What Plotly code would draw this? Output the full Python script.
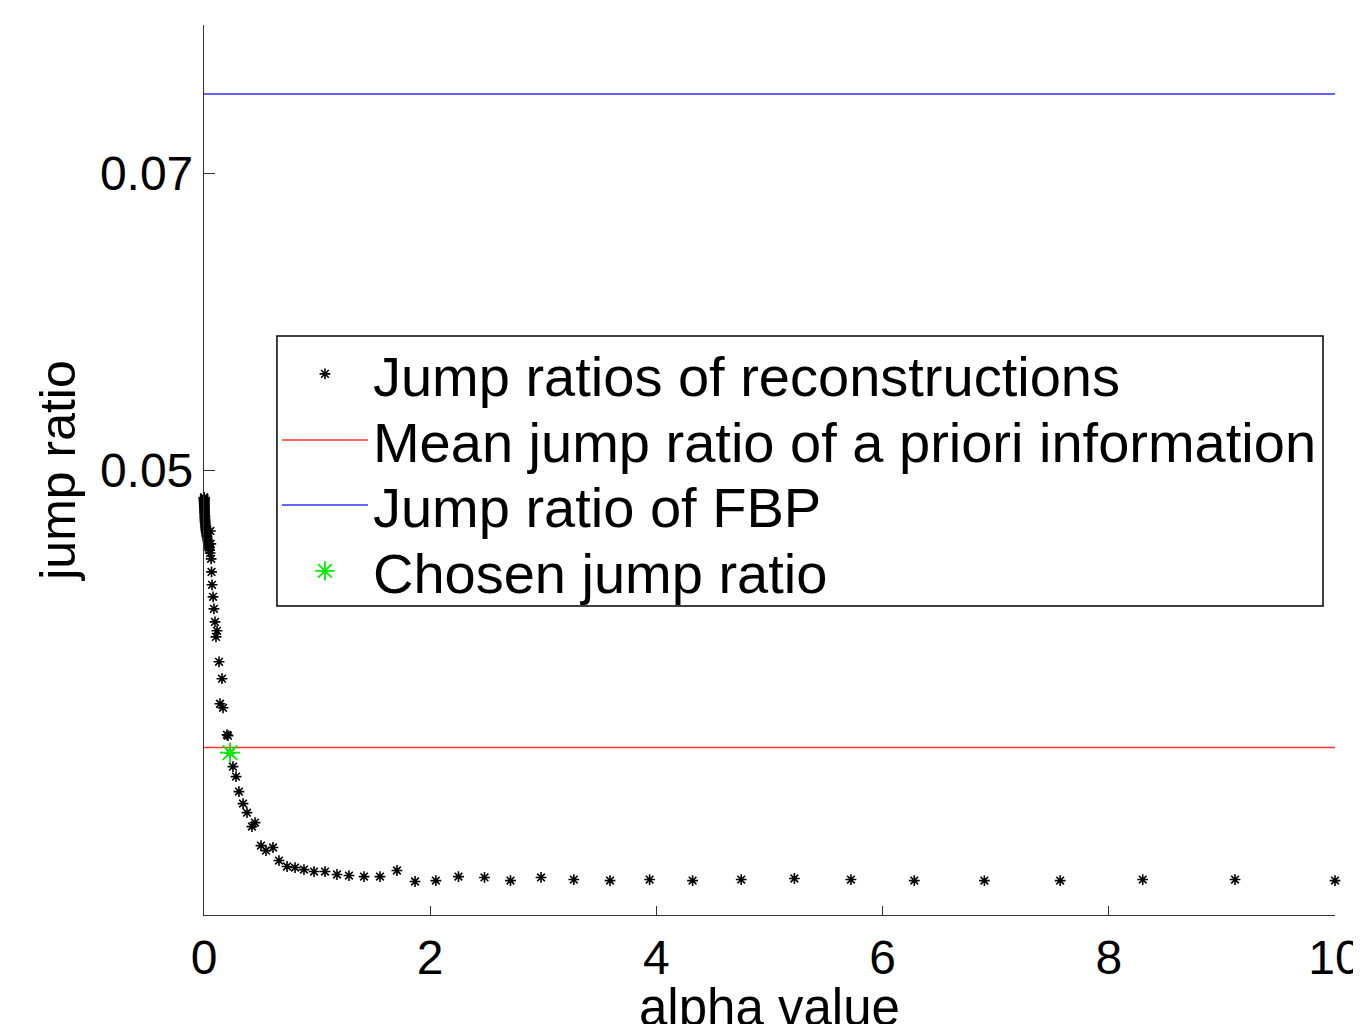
import plotly.graph_objects as go

# ---- data ----
alpha_values = [
    0.0010, 0.0011, 0.0012, 0.0013, 0.0015, 0.0016, 0.0018, 0.0019, 0.0021, 0.0023,
    0.0026, 0.0028, 0.0031, 0.0034, 0.0037, 0.0041, 0.0045, 0.0049, 0.0054, 0.0059,
    0.0065, 0.0071, 0.0078, 0.0086, 0.0094, 0.0103, 0.0113, 0.0124, 0.0136, 0.0149,
    0.0164, 0.0180, 0.0197, 0.0216, 0.0237, 0.0260, 0.0285, 0.0313, 0.0343, 0.0377,
    0.0413, 0.0453, 0.0497, 0.0545,
    0.0565, 0.0600, 0.0630, 0.0665, 0.071, 0.080, 0.088, 0.097, 0.115, 0.106,
    0.133, 0.159, 0.141, 0.168, 0.203, 0.212, 0.230, 0.256, 0.283, 0.309,
    0.345, 0.380, 0.424, 0.451, 0.504, 0.548, 0.610, 0.663, 0.734, 0.805,
    0.884, 0.973, 1.070, 1.176, 1.282, 1.415, 1.556, 1.706, 1.866, 2.05,
    2.25, 2.48, 2.71, 2.98, 3.27, 3.59, 3.94, 4.32, 4.75, 5.22,
    5.72, 6.28, 6.90, 7.57, 8.30, 9.116, 10.0,
]
jump_ratios = [
    0.04815, 0.04813, 0.04810, 0.04806, 0.04803, 0.04798, 0.04794, 0.04789, 0.04784, 0.04778,
    0.04772, 0.04766, 0.04759, 0.04752, 0.04745, 0.04737, 0.04729, 0.04721, 0.04712, 0.04703,
    0.04694, 0.04685, 0.04676, 0.04667, 0.04657, 0.04648, 0.04638, 0.04629, 0.04619, 0.04610,
    0.04600, 0.04591, 0.04581, 0.04572, 0.04562, 0.04553, 0.04543, 0.04530, 0.04518, 0.04505,
    0.04490, 0.04475, 0.04460, 0.04440,
    0.04589, 0.04502, 0.04401, 0.04313, 0.04226, 0.04145, 0.04064, 0.03976, 0.03916, 0.03875,
    0.03707, 0.03593, 0.03424, 0.03397, 0.03215, 0.03209, 0.03094, 0.03000, 0.02933, 0.02832,
    0.02751, 0.02690, 0.02596, 0.02623, 0.02468, 0.02434, 0.02455, 0.02367, 0.02327, 0.02320,
    0.02306, 0.02293, 0.02293, 0.02273, 0.02266, 0.02259, 0.02259, 0.02300, 0.02226, 0.02232,
    0.02259, 0.02253, 0.02232, 0.02253, 0.02239, 0.02232, 0.02239, 0.02232, 0.02239, 0.02246,
    0.02239, 0.02232, 0.02232, 0.02232, 0.02239, 0.02239, 0.02232,
]
line_x = [0, 10]
mean_prior_ratio = 0.03130
fbp_ratio = 0.07535
chosen_alpha = [0.230]
chosen_ratio = [0.03094]

x_ticks = [0, 2, 4, 6, 8, 10]
y_ticks = [0.05, 0.07]
y_tick_labels = ["0.05", "0.07"]
x_title = "alpha value"
y_title = "jump ratio"

FONT = "Liberation Sans, Arial, Helvetica, sans-serif"

fig = go.Figure()
fig.add_trace(go.Scatter(
    x=alpha_values, y=jump_ratios, mode="markers",
    name="Jump ratios of reconstructions", legend="legend",
    marker=dict(symbol="asterisk-open", size=9, color="black",
                line=dict(color="black", width=1.6)),
    cliponaxis=False,
))
fig.add_trace(go.Scatter(
    x=line_x, y=[mean_prior_ratio, mean_prior_ratio], mode="lines",
    name="Mean jump ratio of a priori information", legend="legend2",
    line=dict(color="#ff3030", width=1.5),
))
fig.add_trace(go.Scatter(
    x=line_x, y=[fbp_ratio, fbp_ratio], mode="lines",
    name="Jump ratio of FBP", legend="legend3",
    line=dict(color="#3030ff", width=1.5),
))
fig.add_trace(go.Scatter(
    x=chosen_alpha, y=chosen_ratio, mode="markers",
    name="Chosen jump ratio", legend="legend4",
    marker=dict(symbol="asterisk-open", size=17, color="#00ee00",
                line=dict(color="#00ee00", width=1.8)),
    cliponaxis=False,
))

legend_common = dict(
    x=0.0645, xanchor="left", yanchor="middle",
    borderwidth=0, bgcolor="rgba(0,0,0,0)",
    font=dict(family=FONT, size=56, color="black"),
    itemwidth=86,
)
row_y = [0.6079, 0.5337, 0.4607, 0.3865]

fig.update_layout(
    width=1353, height=1016,
    margin=dict(l=196, r=26, t=17, b=109, autoexpand=False),
    paper_bgcolor="white", plot_bgcolor="white",
    font=dict(family=FONT, size=48, color="black"),
    showlegend=True,
    legend=dict(legend_common, y=row_y[0]),
    legend2=dict(legend_common, y=row_y[1]),
    legend3=dict(legend_common, y=row_y[2]),
    legend4=dict(legend_common, y=row_y[3]),
    shapes=[dict(type="rect", xref="paper", yref="paper",
                 x0=0.0645, x1=0.9894, y0=0.3472, y1=0.6506,
                 line=dict(color="black", width=1.5), layer="above")],
    annotations=[dict(text=x_title, xref="paper", yref="paper",
                      x=0.5, y=-0.1034, xanchor="center", yanchor="middle",
                      showarrow=False, font=dict(family=FONT, size=51, color="black"))],
)
fig.update_xaxes(
    range=[0, 10], tickvals=x_ticks, ticks="inside", ticklen=9, tickcolor="#333",
    showline=True, linecolor="#333", linewidth=1.2, showgrid=False, zeroline=False,
    tickfont=dict(size=48), automargin=True, ticklabeloverflow="allow",
)
fig.update_yaxes(
    range=[0.02, 0.08], tickvals=y_ticks, ticktext=y_tick_labels, ticks="inside",
    ticklen=11, tickcolor="#333",
    showline=True, linecolor="#333", linewidth=1.2, showgrid=False, zeroline=False,
    tickfont=dict(size=48), automargin=True, ticklabeloverflow="allow",
    title=dict(text=y_title, font=dict(size=50), standoff=8),
)

fig.write_html("out.html")
